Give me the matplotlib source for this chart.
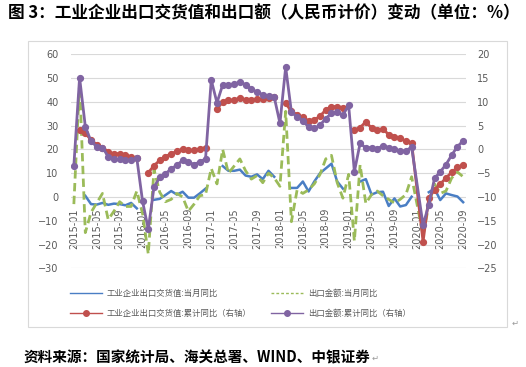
import numpy as np
import matplotlib.pyplot as plt
from matplotlib.lines import Line2D
from matplotlib.patches import Rectangle

plt.rcParams['font.family'] = ['Noto Sans CJK SC', 'DejaVu Sans']

nan = np.nan
months = [f'{y}-{m:02d}' for y in range(2015, 2021) for m in range(1, 13)][:69]

# 工业企业出口交货值:当月同比 (左轴)
jhz_dy = [nan, nan, 0.5, -3.0, -3.2, -2.5, -3.3, -2.8, -3.0, -3.5, -2.5, -4.8,
          nan, nan, -1.2, -0.8, 0.8, 2.5, 1.0, 2.2, -0.3, -0.3, 1.5, 3.5,
          nan, nan, 13.0, 11.0, 11.0, 11.5, 9.0, 8.5, 9.5, 7.5, 11.0, 8.5,
          nan, nan, 3.8, 3.8, 6.5, 2.3, 6.5, 10.0, 12.0, 14.0, 6.5, 3.5,
          nan, nan, 6.5, 7.5, 1.0, 2.0, 2.2, -3.8, -0.6, -4.0, -3.4, 0.1,
          nan, nan, 2.0, 3.5, -1.3, 1.5, 0.8, 0.2, -2.2]

# 出口金额:当月同比 (左轴)
ck_dy = [-3.0, 48.0, -15.0, -6.5, -2.5, 1.5, -9.5, -6.0, -2.0, -4.0, -4.0, 2.5,
         -7.0, -24.0, 11.5, 2.0, -2.0, -1.0, 1.5, 0.0, -6.0, -3.0, 0.5, 1.0,
         12.0, 5.5, 20.0, 10.0, 13.0, 16.0, 11.0, 7.5, 9.0, 6.0, 10.0, 8.0,
         4.5, 36.0, -10.4, 3.0, 1.5, 3.0, 5.5, 9.5, 16.0, 17.5, 6.0, -0.5,
         9.5, -18.5, 13.5, -2.7, 1.0, 2.5, 0.5, -1.0, -2.5, -1.0, 1.0, 8.5,
         nan, -16.0, -3.5, 5.5, 1.5, 2.5, 8.0, 10.5, 8.5]

# 工业企业出口交货值:累计同比 (右轴)
jhz_lj = [nan, 4.1, 3.4, 2.0, 1.0, 0.4, -0.5, -0.9, -0.9, -1.2, -1.5, -1.9,
          nan, -4.9, -3.4, -2.3, -1.5, -0.9, -0.4, 0.1, -0.2, -0.2, 0.1, 0.4,
          nan, 8.5, 10.0, 10.3, 10.4, 10.8, 10.4, 10.3, 10.5, 10.6, 10.9, 11.0,
          nan, 9.7, 8.0, 7.3, 6.8, 6.0, 6.2, 7.0, 8.3, 9.0, 9.0, 8.8,
          nan, 4.1, 4.6, 5.8, 4.5, 4.1, 4.3, 3.1, 2.7, 2.4, 1.7, 1.4,
          nan, -19.4, -10.2, -8.5, -7.3, -6.0, -4.8, -3.8, -3.3]

# 出口金额:累计同比 (右轴)
ck_lj = [-3.4, 15.1, 4.8, 1.7, 0.6, 0.4, -1.5, -2.1, -2.1, -2.3, -2.3, -1.9,
         -10.9, -16.8, -7.9, -5.9, -5.1, -4.1, -3.3, -2.3, -2.6, -3.2, -2.6, -2.0,
         14.6, 9.8, 13.6, 13.5, 13.7, 14.2, 13.6, 12.6, 12.1, 11.5, 11.3, 11.0,
         5.5, 17.3, 7.9, 6.8, 6.0, 4.7, 4.4, 5.1, 6.5, 7.6, 7.8, 7.2,
         9.3, -4.7, 1.3, 0.3, 0.4, 0.1, 0.8, 0.4, 0.0, -0.3, -0.3, 0.5,
         nan, -15.9, -11.6, -6.1, -4.7, -3.2, -1.2, 0.6, 1.8]

labels = ['工业企业出口交货值:当月同比', '出口金额:当月同比',
          '工业企业出口交货值:累计同比（右轴）', '出口金额:累计同比（右轴）']
c_blue, c_green, c_red, c_purple = '#4A7EC4', '#9BBB59', '#C0504D', '#8064A2'

x = np.arange(len(months))
# 2020-01 无数据行, 线直接连上
keep = np.array([m != '2020-01' for m in months])

fig = plt.figure(figsize=(5.26, 3.67), dpi=100)
ax = fig.add_axes([71 / 526, 1 - 268.3 / 367, 395 / 526, 214 / 367])
ax2 = ax.twinx()

ax.plot(x, jhz_dy, color=c_blue, lw=1.8)
ax.plot(x[keep], np.array(ck_dy)[keep], color=c_green, lw=2.0, dashes=(3, 1.6))
ax2.plot(x[keep], np.array(jhz_lj)[keep], color=c_red, lw=2.0, marker='o', ms=4.2)
ax2.plot(x[keep], np.array(ck_lj)[keep], color=c_purple, lw=2.0, marker='o', ms=4.2)

for a in (ax, ax2):
    for s in a.spines.values():
        s.set_visible(False)
ax.spines['bottom'].set_position(('data', 0))

ax.set_xlim(-0.5, len(months) - 0.5)
ax.set_ylim(-30, 60)
ax.set_yticks(range(-30, 61, 10))
ax2.set_ylim(-25, 20)
ax2.set_yticks(range(-25, 21, 5))
ax.yaxis.grid(True, color='#d9d9d9', lw=0.8)
ax.set_axisbelow(True)

ax.set_xticks(x[::4])
ax.set_xticklabels(months[::4])

for a in (ax, ax2):
    a.tick_params(length=0, labelsize=7, labelcolor='#595959')
ax.tick_params(axis='x', pad=8, labelrotation=90)
ax.tick_params(axis='y', pad=9)
ax2.tick_params(axis='y', pad=8)
for t in ax.get_xticklabels() + ax.get_yticklabels() + ax2.get_yticklabels():
    t.set_family('DejaVu Sans')

handles = [Line2D([], [], color=c_blue, lw=1),
           Line2D([], [], color=c_red, lw=1, marker='o', ms=4),
           Line2D([], [], color=c_green, lw=1, ls=(0, (2, 1.5))),
           Line2D([], [], color=c_purple, lw=1, marker='o', ms=4)]
leg = fig.legend(handles, [labels[0], labels[2], labels[1], labels[3]], ncol=2,
                 loc='upper left', bbox_to_anchor=(70 / 526, 1 - 289 / 367),
                 frameon=False, fontsize=6, handlelength=3.8, handletextpad=0.6,
                 columnspacing=2.4, labelspacing=1.3, borderpad=0, borderaxespad=0)
for t in leg.get_texts():
    t.set_color('#595959')

fig.patches.append(Rectangle((28 / 526, 1 - 327 / 367), 479 / 526, 286 / 367,
                             transform=fig.transFigure, fill=False,
                             edgecolor='#d9d9d9', lw=0.8))

fig.text(8 / 526, 1 - 13 / 367,
         '图 3：工业企业出口交货值和出口额（人民币计价）变动（单位：%）',
         fontsize=12, fontweight='bold', va='center', ha='left')
src = fig.text(24 / 526, 1 - 357 / 367, '资料来源：国家统计局、海关总署、WIND、中银证券',
               fontsize=10.5, fontweight='bold', va='center', ha='left')
# 段落标记紧跟在来源文字之后
fig.canvas.draw()
bb = src.get_window_extent().transformed(fig.transFigure.inverted())
fig.text(bb.x1 + 1 / 526, 1 - 358 / 367, '↵', fontsize=6, color='#999999',
         va='center', ha='left')
fig.text(512 / 526, 1 - 323 / 367, '↵', fontsize=6, color='#999999',
         va='center', ha='left')

fig.savefig('out.png', dpi=100)
